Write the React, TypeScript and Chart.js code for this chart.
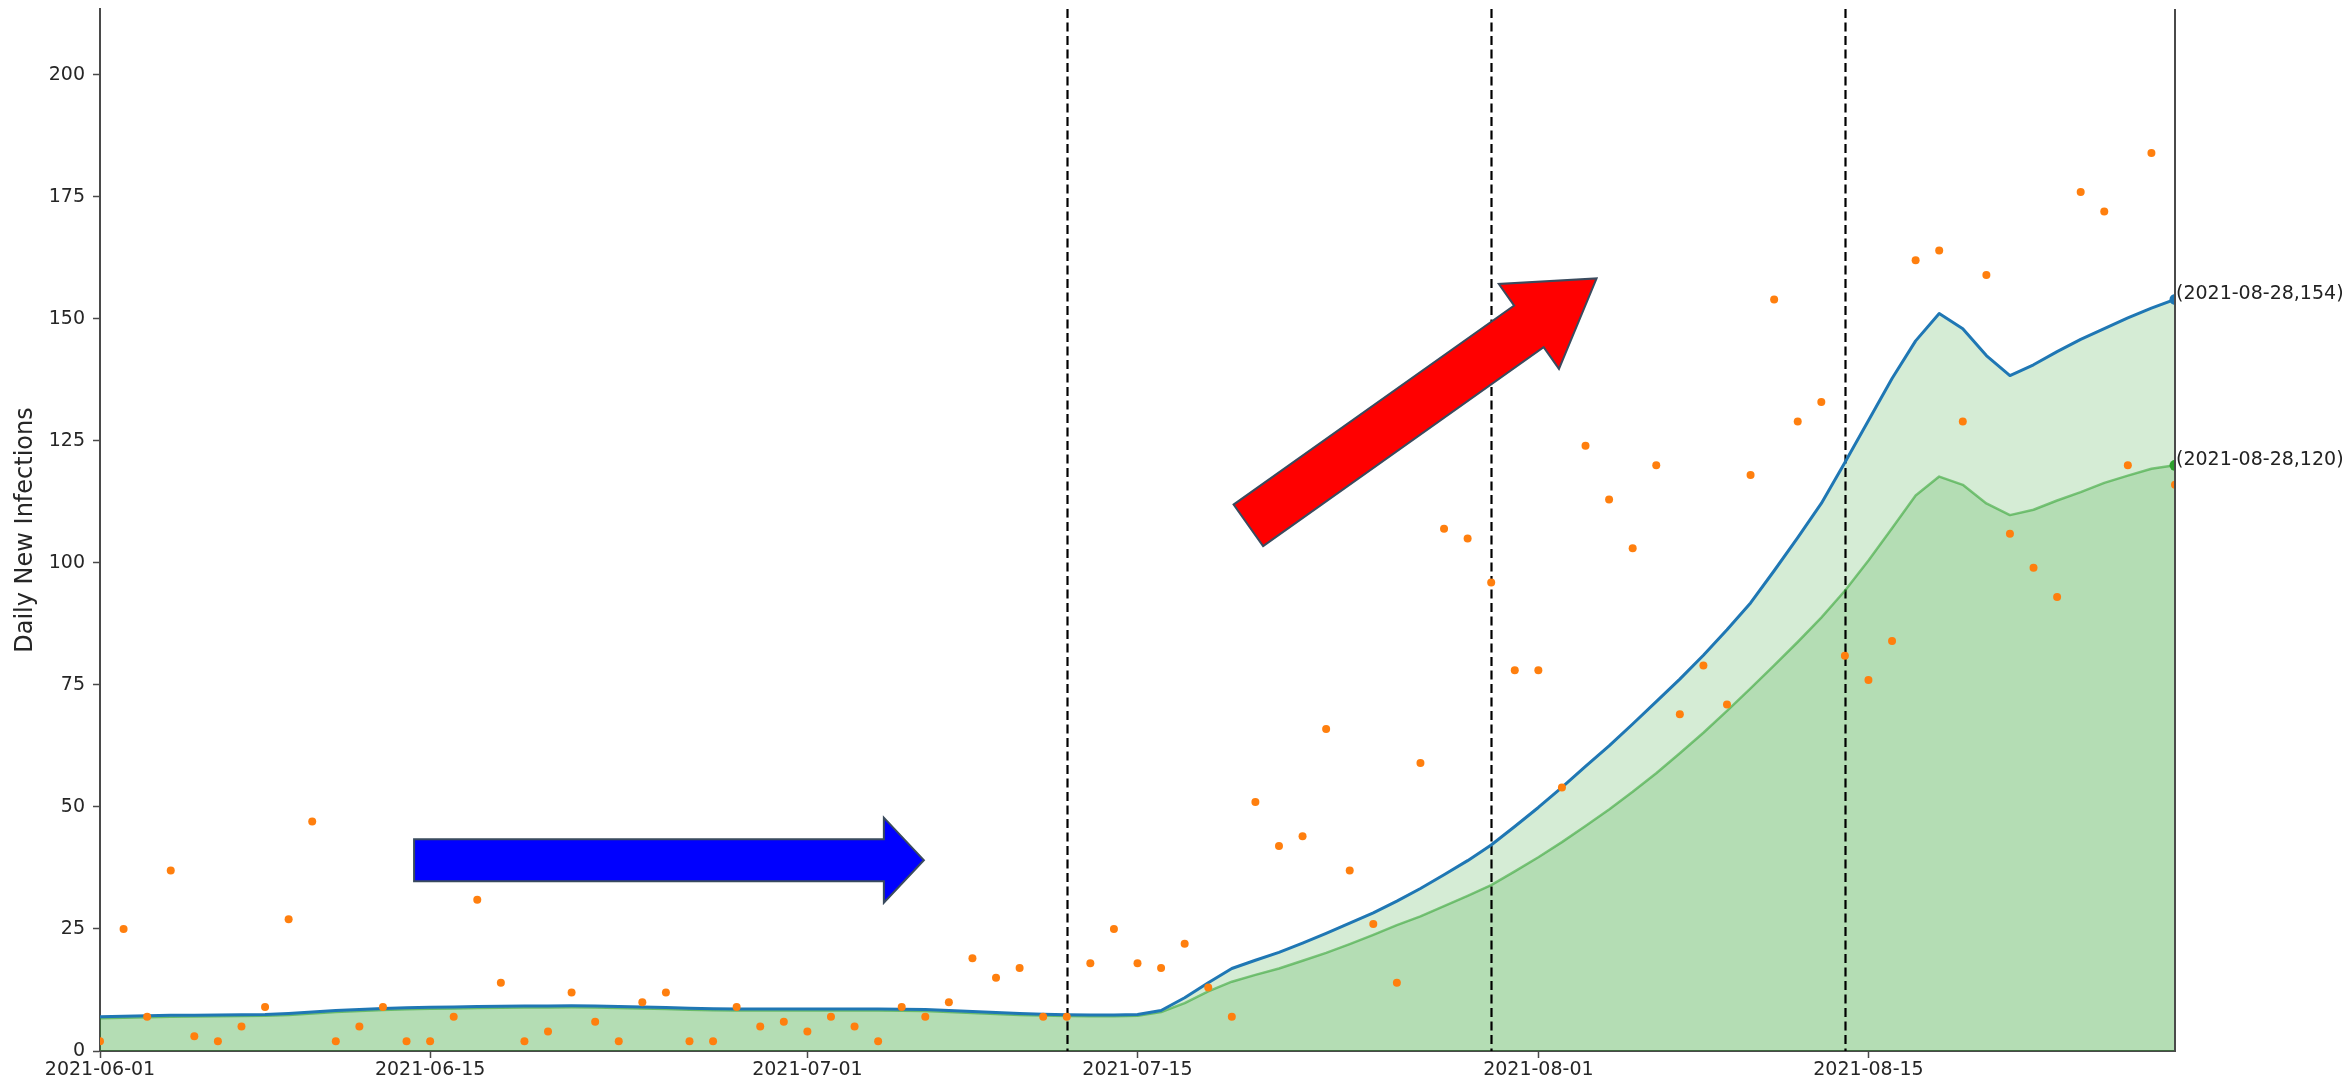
import React, { useEffect, useRef } from 'react';
import { Chart, registerables } from 'chart.js';

Chart.register(...registerables);

// Daily date range shown on the x axis
const START_DATE = '2021-06-01';
const DAY_COUNT = 89;
const dates: string[] = Array.from({ length: DAY_COUNT }, (_, i) => {
  const d = new Date(START_DATE + 'T00:00:00Z');
  d.setUTCDate(d.getUTCDate() + i);
  return d.toISOString().slice(0, 10);
});

// Reported daily new infections
const dailyCases: number[] = [
  2, 25, 7, 37, 3, 2, 5, 9, 27, 47,
  2, 5, 9, 2, 2, 7, 31, 14, 2, 4,
  12, 6, 2, 10, 12, 2, 2, 9, 5, 6,
  4, 7, 5, 2, 9, 7, 10, 19, 15, 17,
  7, 7, 18, 25, 18, 17, 22, 13, 7, 51,
  42, 44, 66, 37, 26, 14, 59, 107, 105, 96,
  78, 78, 54, 124, 113, 103, 120, 69, 79, 71,
  118, 154, 129, 133, 81, 76, 84, 162, 164, 129,
  159, 106, 99, 93, 176, 172, 120, 184, 116,
];

// Upper estimate curve
const upperCurve: number[] = [
  7.0, 7.1, 7.2, 7.3, 7.35, 7.4, 7.45, 7.5, 7.7, 8.0,
  8.3, 8.5, 8.7, 8.85, 8.95, 9.0, 9.1, 9.15, 9.2, 9.2,
  9.25, 9.2, 9.1, 9.0, 8.9, 8.75, 8.65, 8.6, 8.6, 8.6,
  8.6, 8.6, 8.6, 8.6, 8.55, 8.5, 8.3, 8.1, 7.9, 7.7,
  7.55, 7.45, 7.4, 7.4, 7.5, 8.3, 10.9, 14.0, 16.9, 18.6,
  20.2, 22.1, 24.1, 26.2, 28.3, 30.7, 33.3, 36.1, 39.0, 42.2,
  46.0, 49.9, 54.0, 58.3, 62.5, 67.0, 71.6, 76.2, 81.1, 86.3,
  91.8, 98.4, 105.2, 112.2, 120.6, 129.2, 137.8, 145.5, 151.1, 148.0,
  142.5, 138.4, 140.6, 143.3, 145.8, 148.0, 150.2, 152.2, 154,
];

// Lower estimate curve
const lowerCurve: number[] = [
  6.7, 6.8, 6.9, 7.0, 7.05, 7.1, 7.15, 7.2, 7.4, 7.7,
  8.0, 8.2, 8.4, 8.55, 8.65, 8.7, 8.8, 8.85, 8.9, 8.9,
  8.95, 8.9, 8.8, 8.7, 8.6, 8.45, 8.35, 8.3, 8.3, 8.3,
  8.3, 8.3, 8.3, 8.3, 8.25, 8.2, 8.0, 7.8, 7.6, 7.4,
  7.25, 7.15, 7.1, 7.1, 7.2, 8.0, 9.8, 12.2, 14.2, 15.6,
  16.9, 18.5, 20.1, 21.9, 23.8, 25.8, 27.6, 29.7, 31.8, 34.0,
  36.8, 39.7, 42.8, 46.1, 49.5, 53.1, 56.9, 61.0, 65.2, 69.7,
  74.3, 79.0, 83.8, 88.8, 94.3, 100.5, 107.1, 113.8, 117.7, 116.0,
  112.2, 109.8, 110.9, 112.8, 114.5, 116.4, 117.9, 119.3, 120,
];

// Axis ticks
const xTickDates: string[] = ['2021-06-01', '2021-06-15', '2021-07-01', '2021-07-15', '2021-08-01', '2021-08-15'];
const yTickStep = 25;
const yMax = 213.5;

// Dates marked with dashed vertical lines
const markerDates: string[] = ['2021-07-12', '2021-07-30', '2021-08-14'];

// Trend arrows: tail/tip in (day index, value), widths in px
const arrows = [
  { from: [13.32, 39.1], to: [34.94, 39.1], body: 42, head: 85, headLen: 40, color: '#0000ff' },
  { from: [48.7, 107.7], to: [63.47, 158.3], body: 51, head: 104, headLen: 83, color: '#ff0000' },
];

const FONT = 'DejaVu Sans';
const TEXT = '#262626';
const AXIS = '#4a4a4a';
const FILL = 'rgba(44,160,44,0.2)';

const dayIndex = (d: string) => dates.indexOf(d);
const toXY = (arr: number[]) => arr.map((y, x) => ({ x, y }));

const overlayPlugin = {
  id: 'overlay',
  beforeDatasetsDraw(chart: any) {
    const { ctx, chartArea, scales } = chart;
    ctx.save();
    ctx.strokeStyle = '#000';
    ctx.lineWidth = 2.2;
    ctx.setLineDash([9, 4.5]);
    markerDates.forEach((d) => {
      const x = Math.round(scales.x.getPixelForValue(dayIndex(d))) + 0.5;
      ctx.beginPath();
      ctx.moveTo(x, chartArea.top);
      ctx.lineTo(x, chartArea.bottom);
      ctx.stroke();
    });
    ctx.restore();
  },
  afterDatasetsDraw(chart: any) {
    const { ctx, chartArea, scales } = chart;
    ctx.save();
    // right spine
    ctx.strokeStyle = AXIS;
    ctx.lineWidth = 2;
    ctx.beginPath();
    ctx.moveTo(chartArea.right, chartArea.top);
    ctx.lineTo(chartArea.right, chartArea.bottom);
    ctx.stroke();

    // arrows
    arrows.forEach((a) => {
      const x0 = scales.x.getPixelForValue(a.from[0]);
      const y0 = scales.y.getPixelForValue(a.from[1]);
      const x1 = scales.x.getPixelForValue(a.to[0]);
      const y1 = scales.y.getPixelForValue(a.to[1]);
      const len = Math.hypot(x1 - x0, y1 - y0);
      const ux = (x1 - x0) / len;
      const uy = (y1 - y0) / len;
      const nx = -uy;
      const ny = ux;
      const bx = x1 - ux * a.headLen;
      const by = y1 - uy * a.headLen;
      const bw = a.body / 2;
      const hw = a.head / 2;
      ctx.beginPath();
      ctx.moveTo(x0 + nx * bw, y0 + ny * bw);
      ctx.lineTo(bx + nx * bw, by + ny * bw);
      ctx.lineTo(bx + nx * hw, by + ny * hw);
      ctx.lineTo(x1, y1);
      ctx.lineTo(bx - nx * hw, by - ny * hw);
      ctx.lineTo(bx - nx * bw, by - ny * bw);
      ctx.lineTo(x0 - nx * bw, y0 - ny * bw);
      ctx.closePath();
      ctx.fillStyle = a.color;
      ctx.fill();
      ctx.lineWidth = 2;
      ctx.lineJoin = 'miter';
      ctx.strokeStyle = '#3a4b5e';
      ctx.stroke();
    });

    // end-point labels
    const last = DAY_COUNT - 1;
    ctx.font = `19px "${FONT}"`;
    ctx.fillStyle = '#222';
    ctx.textAlign = 'left';
    ctx.textBaseline = 'alphabetic';
    [upperCurve, lowerCurve].forEach((series) => {
      const v = series[last];
      const px = scales.x.getPixelForValue(last);
      const py = scales.y.getPixelForValue(v);
      ctx.fillText(`(${dates[last]},${Math.round(v)})`, px + 1, py);
    });
    ctx.restore();
  },
};

export default function App() {
  const canvasRef = useRef<HTMLCanvasElement | null>(null);

  useEffect(() => {
    document.body.style.margin = '0';
    const canvas = canvasRef.current;
    if (!canvas) return;
    const last = DAY_COUNT - 1;

    const chart = new Chart(canvas, {
      type: 'line',
      data: {
        datasets: [
          {
            label: 'Daily cases',
            data: toXY(dailyCases),
            showLine: false,
            pointRadius: 4,
            pointBackgroundColor: '#ff7f0e',
            pointBorderWidth: 0,
            borderWidth: 0,
            clip: 0,
            order: 0,
          } as any,
          {
            label: 'Upper end',
            data: [{ x: last, y: upperCurve[last] }],
            showLine: false,
            pointRadius: 5.5,
            pointBackgroundColor: '#1f77b4',
            pointBorderWidth: 0,
            clip: 0,
            order: 1,
          },
          {
            label: 'Lower end',
            data: [{ x: last, y: lowerCurve[last] }],
            showLine: false,
            pointRadius: 5.5,
            pointBackgroundColor: '#2ca02c',
            pointBorderWidth: 0,
            clip: 0,
            order: 1,
          },
          {
            label: 'Upper',
            data: toXY(upperCurve),
            borderColor: '#1f77b4',
            borderWidth: 3,
            pointRadius: 0,
            tension: 0,
            fill: 'origin',
            backgroundColor: FILL,
            borderJoinStyle: 'round',
            order: 2,
          },
          {
            label: 'Lower',
            data: toXY(lowerCurve),
            borderColor: 'rgba(44,160,44,0.55)',
            borderWidth: 2.5,
            pointRadius: 0,
            tension: 0,
            fill: 'origin',
            backgroundColor: FILL,
            borderJoinStyle: 'round',
            order: 3,
          },
        ],
      },
      options: {
        animation: false,
        responsive: true,
        maintainAspectRatio: false,
        devicePixelRatio: 1,
        layout: { padding: { top: 9, right: 169, left: 0, bottom: 0 } },
        plugins: {
          legend: { display: false },
          tooltip: { enabled: false },
          filler: { drawTime: 'beforeDatasetsDraw' },
        },
        scales: {
          x: {
            type: 'linear',
            min: 0,
            max: last,
            afterBuildTicks: (scale: any) => {
              scale.ticks = xTickDates.map((d) => ({ value: dayIndex(d) }));
            },
            afterFit: (scale: any) => {
              scale.height = 37;
              scale.paddingLeft = 0;
              scale.paddingRight = 0;
            },
            ticks: {
              autoSkip: false,
              maxRotation: 0,
              padding: 1,
              color: TEXT,
              font: { family: FONT, size: 19 },
              callback: (v: any) => dates[Math.round(Number(v))],
            },
            grid: {
              display: true,
              drawOnChartArea: false,
              drawTicks: true,
              tickLength: 7,
              tickColor: AXIS,
              tickWidth: 1.5,
            },
            border: { display: true, color: AXIS, width: 2 },
          },
          y: {
            type: 'linear',
            min: 0,
            max: yMax,
            afterFit: (scale: any) => {
              scale.width = 100;
              scale.paddingTop = 0;
              scale.paddingBottom = 0;
            },
            ticks: {
              stepSize: yTickStep,
              includeBounds: false,
              padding: 8,
              color: TEXT,
              font: { family: FONT, size: 19 },
            },
            grid: {
              display: true,
              drawOnChartArea: false,
              drawTicks: true,
              tickLength: 7,
              tickColor: AXIS,
              tickWidth: 1.5,
            },
            border: { display: true, color: AXIS, width: 2 },
            title: {
              display: true,
              text: 'Daily New Infections',
              color: TEXT,
              font: { family: FONT, size: 24 },
              padding: { top: 11, bottom: 0 },
            },
          },
        },
      },
      plugins: [overlayPlugin],
    } as any);

    return () => chart.destroy();
  }, []);

  return (
    <div style={{ position: 'fixed', left: 0, top: 0, width: 2344, height: 1088, background: '#fff' }}>
      <canvas ref={canvasRef} />
    </div>
  );
}
